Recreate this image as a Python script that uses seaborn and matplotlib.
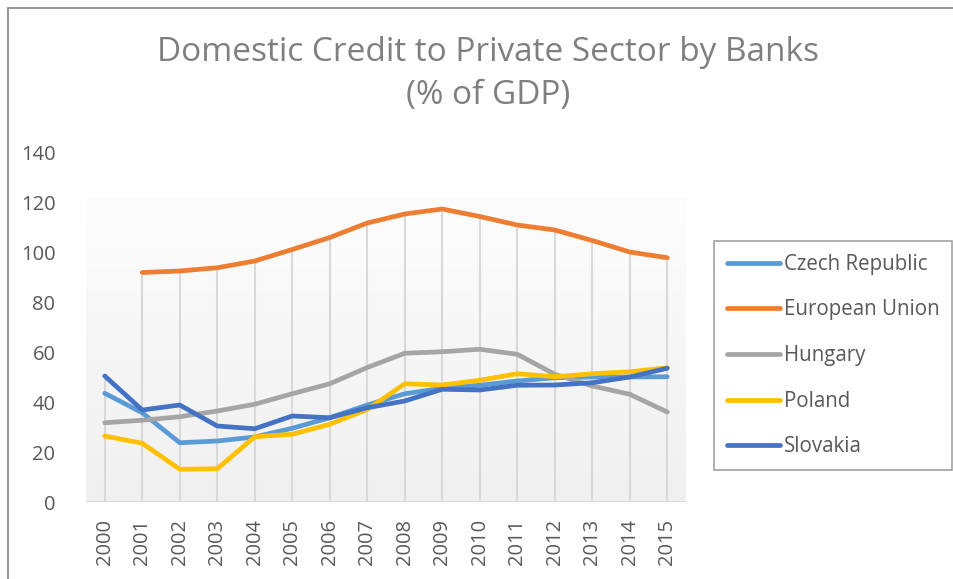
import numpy as np
import pandas as pd
import seaborn as sns
import matplotlib
matplotlib.use("Agg")
import matplotlib.pyplot as plt
from matplotlib.lines import Line2D

years = list(range(2000, 2016))
czech = [43.5, 35.7, 23.7, 24.4, 26.0, 29.5, 33.7, 38.8, 43.3, 45.5, 46.7, 48.4, 49.7, 50.0, 50.0, 50.1]
eu = [np.nan, 91.8, 92.4, 93.7, 96.4, 101.0, 105.8, 111.6, 115.2, 117.2, 114.2, 110.8, 108.8, 104.6, 100.0, 97.7]
hungary = [31.7, 32.7, 34.1, 36.4, 39.1, 43.3, 47.3, 53.8, 59.5, 60.1, 61.1, 59.1, 51.1, 46.4, 43.1, 36.0]
poland = [26.4, 23.5, 13.1, 13.3, 26.1, 27.1, 31.1, 37.0, 47.3, 46.8, 48.7, 51.3, 50.1, 51.3, 52.1, 53.7]
slovakia = [50.4, 36.8, 38.8, 30.4, 29.3, 34.4, 33.7, 37.7, 40.4, 45.1, 44.8, 46.7, 46.8, 47.7, 50.0, 53.5]

series_names = ["Czech Republic", "European Union", "Hungary", "Poland", "Slovakia"]
series_values = [czech, eu, hungary, poland, slovakia]
colors = ["#5B9BD5", "#ED7D31", "#A5A5A5", "#FFC000", "#4472C4"]

title_text = "Domestic Credit to Private Sector by Banks\n(% of GDP)"

wide = pd.DataFrame(dict(zip(series_names, series_values)))
wide["pos"] = np.arange(len(years))
long_df = wide.melt(id_vars="pos", var_name="Country", value_name="Value").dropna()

sns.set_theme(style="white")
plt.rcParams["font.family"] = ["Open Sans", "DejaVu Sans"]

W, H = 954, 579
fig = plt.figure(figsize=(W / 100, H / 100), dpi=100)
ax = fig.add_axes([86 / W, 1 - 502 / H, 600 / W, (502 - 152) / H])

x = np.arange(len(years))
ax.set_xlim(-0.5, len(years) - 0.5)
ax.set_ylim(0, 140)

# subtle vertical gradient behind the plot
grad = np.linspace(0.0, 1.0, 256).reshape(-1, 1)
cmap = matplotlib.colors.LinearSegmentedColormap.from_list("bg", ["#f0f0f0", "#fdfdfd"])
ax.imshow(grad, extent=[-0.5, len(years) - 0.5, 0, 121.5], origin="lower",
          aspect="auto", cmap=cmap, zorder=0)

# drop lines from the highest series down to the axis
tops = wide[series_names].max(axis=1).values
ax.vlines(x, 0, tops, colors="#d9d9d9", linewidth=1.5, zorder=1)

sns.lineplot(data=long_df, x="pos", y="Value", hue="Country", hue_order=series_names,
             palette=colors, linewidth=3.4, ax=ax, legend=False, zorder=3,
             solid_capstyle="round", solid_joinstyle="round")

ax.axhline(0, color="#d9d9d9", linewidth=1.5, zorder=2)

for s in ax.spines.values():
    s.set_visible(False)

ax.set_xticks(x)
ax.set_xticklabels([str(y) for y in years], rotation=90)
ax.set_yticks(np.arange(0, 141, 20))
ax.tick_params(axis="both", length=0, labelsize=14.5, colors="#595959")
ax.tick_params(axis="y", pad=22)
ax.tick_params(axis="x", pad=12)
ax.set_xlabel("")
ax.set_ylabel("")

fig.text(488 / W, 1 - 74 / H, title_text, ha="center", va="center",
         fontsize=24, color="#7f7f7f", linespacing=1.42)

handles = [Line2D([], [], color=c, linewidth=3.4, solid_capstyle="round") for c in colors]
leg = fig.legend(handles, series_names, loc="upper left",
                 bbox_to_anchor=(714 / W, 1 - 241 / H), frameon=True, fancybox=False,
                 fontsize=14.8, labelcolor="#595959", handlelength=2.6,
                 handletextpad=0.18, labelspacing=1.2, borderpad=0.62,
                 borderaxespad=0)
leg.get_frame().set_edgecolor("#8c8c8c")
leg.get_frame().set_linewidth(1.2)

# outer chart border (left and top edges visible)
fig.add_artist(Line2D([8.5 / W, 8.5 / W], [0, 1 - 8 / H], color="#8c8c8c", linewidth=1.3,
                      transform=fig.transFigure))
fig.add_artist(Line2D([8.5 / W, 1], [1 - 8 / H, 1 - 8 / H], color="#8c8c8c", linewidth=1.3,
                      transform=fig.transFigure))

fig.savefig("out.png", dpi=100, facecolor="white")
